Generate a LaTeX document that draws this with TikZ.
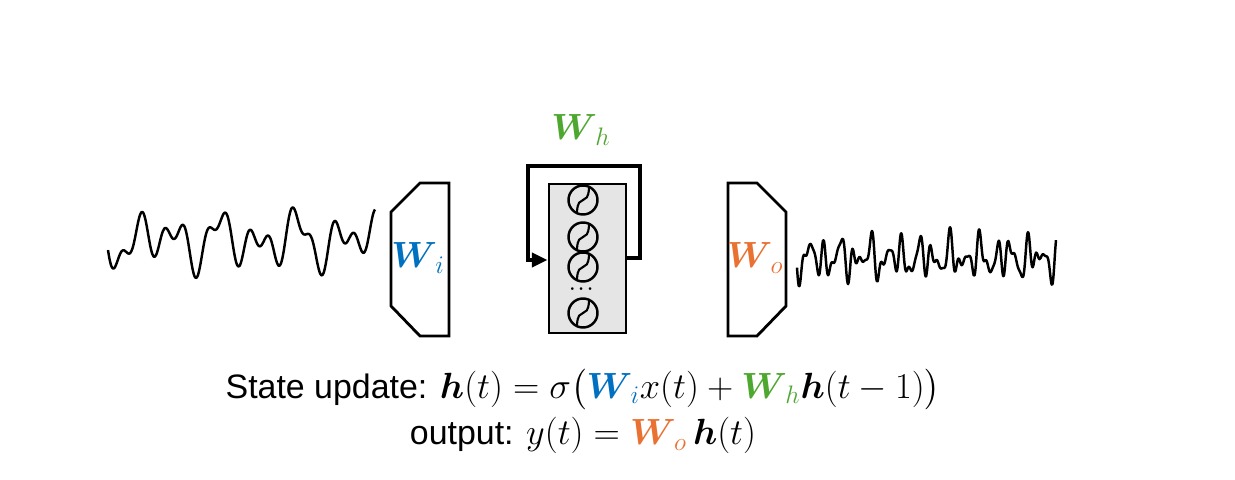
\documentclass[tikz,border=0pt]{standalone}
\usepackage{amsmath,amssymb,bm}
\usepackage{fontspec}
\setsansfont{Liberation Sans}
\usetikzlibrary{arrows.meta,positioning}
\definecolor{wblue}{HTML}{0070C0}
\definecolor{wgreen}{HTML}{4EA72E}
\definecolor{worange}{HTML}{E97132}
\tikzset{
  layer/.style={draw, line width=1.6pt, line join=miter},
  unit/.style={circle, draw, line width=1.4pt, minimum size=0.58cm, inner sep=0pt},
  wave/.style={line width=1.4pt, line join=round},
  lbl/.style={font=\fontsize{21}{25}\selectfont},
  eqn/.style={font=\fontsize{19.3}{23}\selectfont}
}
\begin{document}
\begin{tikzpicture}[x=0.02cm, y=-0.02cm]
  \useasboundingbox (0,0) rectangle (1235,480);

  % input and output layers
  \draw[layer] (420,183) -- (449,183) -- (449,336) -- (420,336) -- (391,306) -- (391,212) -- cycle;
  \draw[layer] (728,183) -- (757,183) -- (786,212) -- (786,306) -- (757,336) -- (728,336) -- cycle;
  \node[lbl, wblue] (wi) at (418,258) {$\bm{W}_{\,i}$};
  \node[lbl, worange] (wo) at (755,258) {$\bm{W}_{\,o}$};

  % reservoir
  \node[draw, fill=gray!20, line width=1.6pt, minimum width=1.54cm, minimum height=2.98cm, inner sep=0pt] (res) at (587.5,258.5) {};
  \foreach \y/\n in {200/u1, 237/u2, 267/u3, 313/u4} {
    \node[unit] (\n) at (583,\y) {};
    \draw[line width=1.2pt] (577,\y+12) .. controls (578,\y-8) and (588,\y+8) .. (589,\y-12);
  }
  \node (dots) at (583,289) {$\bm\cdots$};

  % recurrent loop
  \coordinate (lo1) at (640,258);
  \coordinate (lo2) at (640,166);
  \coordinate (lo3) at (528,166);
  \coordinate (lo4) at (528,260);
  \draw[line width=2.2pt, -{Triangle[length=9pt,width=8pt]}] (res.east |- lo1) -- (lo1) -- (lo2) -- (lo3) -- (lo4) -- (res.west |- lo4);
  \node[lbl, wgreen] (wh) at (581,130) {$\bm{W}_{\,h}$};

  % signals
  \draw[wave] plot[smooth, variable=\t, domain=0:267, samples=200] ({108+\t}, {240 + 17*sin(9*\t) + 13*sin(17*\t+40) + 10*sin(5.3*\t+10)});
  \draw[wave] plot[smooth, variable=\t, domain=0:259, samples=300] ({797+\t}, {258 + 11*sin(23*\t) + 9*sin(37*\t+20) + 7*sin(13*\t+70) + 5*sin(51*\t)});

  % equations
  \node[eqn] (eq1) at (583,389) {\sffamily State update: $\bm{h}(t)=\sigma\bigl({\color{wblue}\bm{W}_{\,i}}x(t)+{\color{wgreen}\bm{W}_{\,h}}\bm{h}(t-1)\bigr)$};
  \node[eqn, below=-0.12cm of eq1] (eq2) {\sffamily output: $y(t)={\color{worange}\bm{W}_{\,o}}\,\bm{h}(t)$};
\end{tikzpicture}
\end{document}
